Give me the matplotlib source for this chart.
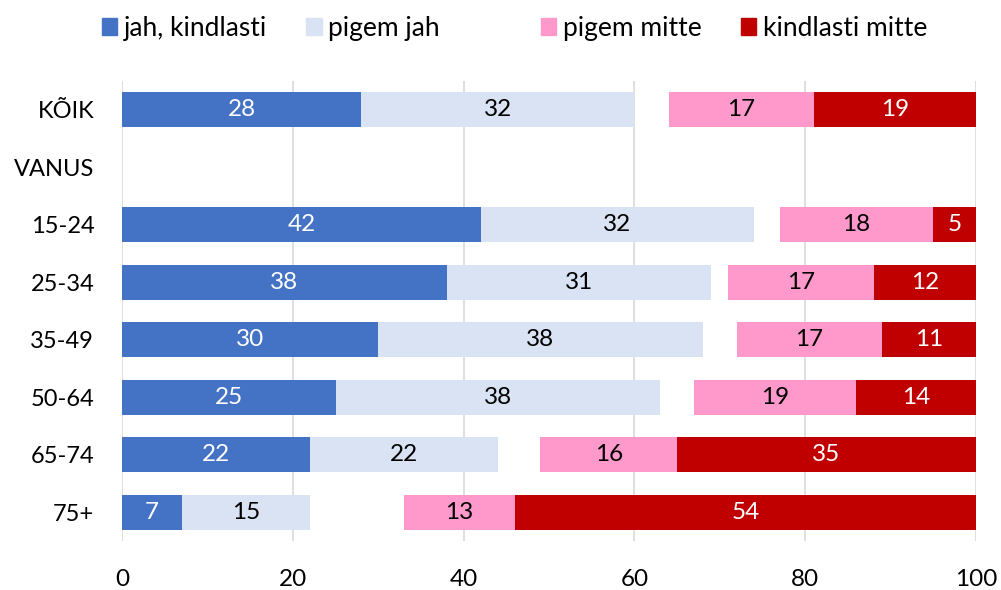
import numpy as np
import matplotlib.pyplot as plt
from matplotlib.patches import Patch

plt.rcParams['font.family'] = ['Lato', 'DejaVu Sans']

# rows from top to bottom; VANUS is a heading row with no bars
categories = ['KÕIK', 'VANUS', '15-24', '25-34', '35-49', '50-64', '65-74', '75+']
jah_kindlasti = [28, None, 42, 38, 30, 25, 22, 7]
pigem_jah = [32, None, 32, 31, 38, 38, 22, 15]
pigem_mitte = [17, None, 18, 17, 17, 19, 16, 13]
kindlasti_mitte = [19, None, 5, 12, 11, 14, 35, 54]

series_names = ['jah, kindlasti', 'pigem jah', 'pigem mitte', 'kindlasti mitte']
colors = ['#4472C4', '#DAE3F3', '#FF99CC', '#C00000']
text_colors = ['white', 'black', 'black', 'white']

fig = plt.figure(figsize=(10.01, 5.90), dpi=100)
ax = fig.add_axes([0.1219, 0.083, 0.8531, 0.7797])

y = np.arange(len(categories))
bar_h = 0.61

for i, cat in enumerate(categories):
    if jah_kindlasti[i] is None:
        continue
    jk, pj, pm, km = jah_kindlasti[i], pigem_jah[i], pigem_mitte[i], kindlasti_mitte[i]
    # positive answers start at 0, negative answers end at 100; gap = "ei oska öelda"
    lefts = [0, jk, 100 - pm - km, 100 - km]
    vals = [jk, pj, pm, km]
    for k in range(4):
        ax.barh(y[i], vals[k], left=lefts[k], height=bar_h, color=colors[k], zorder=3)
        ax.text(lefts[k] + vals[k] / 2, y[i], str(vals[k]), ha='center', va='center',
                color=text_colors[k], fontsize=17.5, zorder=4)

ax.set_xlim(0, 100)
ax.set_ylim(len(categories) - 0.5, -0.5)
ax.set_yticks(y)
ax.set_yticklabels(categories, fontsize=17)
ax.set_xticks([0, 20, 40, 60, 80, 100])
ax.tick_params(axis='x', labelsize=17.5, length=0, pad=20)
ax.tick_params(axis='y', length=0, pad=20)
ax.grid(axis='x', color='#D9D9D9', linewidth=1.2, zorder=0)
for s in ax.spines.values():
    s.set_visible(False)

handles = [Patch(color=colors[0]), Patch(color=colors[1]), Patch(color='none'),
           Patch(color=colors[2]), Patch(color=colors[3])]
labels = [series_names[0], series_names[1], '', series_names[2], series_names[3]]
fig.legend(handles, labels, loc='center', bbox_to_anchor=(0.514, 0.952), ncol=5,
           frameon=False, fontsize=19, handlelength=0.58, handleheight=0.58,
           handletextpad=0.25, columnspacing=1.5)

fig.savefig('out.png', dpi=100)
